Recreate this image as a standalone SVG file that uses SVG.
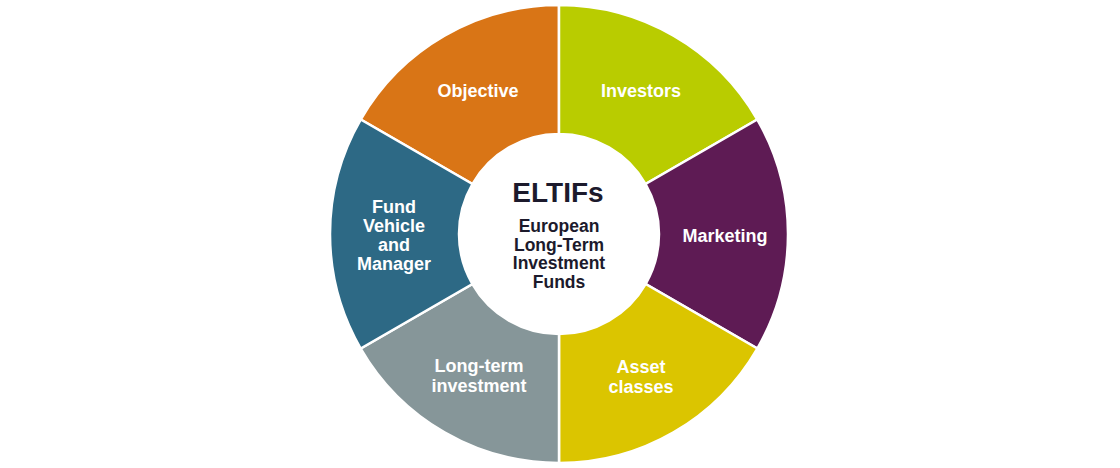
<svg xmlns="http://www.w3.org/2000/svg" width="1120" height="468" viewBox="0 0 1120 468">
<style>
.seg{stroke:#ffffff;stroke-width:2.5;stroke-linejoin:miter}
.lbl{font-family:"Liberation Sans",Arial,sans-serif;font-weight:bold;font-size:18px;fill:#ffffff;text-anchor:middle}
.title{font-family:"Liberation Sans",Arial,sans-serif;font-weight:bold;font-size:28px;fill:#1c1a2c;text-anchor:middle}
.sub{font-family:"Liberation Sans",Arial,sans-serif;font-weight:bold;font-size:17.5px;fill:#1c1a2c;text-anchor:middle}
</style>
<rect width="1120" height="468" fill="#ffffff"/>
<g id="objective">
<path class="seg" fill="#d97516" d="M360.68,119.5 A229,229 0 0 1 559,5 L559,134 A100,100 0 0 0 472.40,184 Z"/>
<text class="lbl" x="478" y="97">Objective</text>
</g>
<g id="investors">
<path class="seg" fill="#b9cc00" d="M559,5 A229,229 0 0 1 757.32,119.5 L645.60,184 A100,100 0 0 0 559,134 Z"/>
<text class="lbl" x="641" y="97">Investors</text>
</g>
<g id="marketing">
<path class="seg" fill="#5e1b54" d="M757.32,119.5 A229,229 0 0 1 757.32,348.5 L645.60,284 A100,100 0 0 0 645.60,184 Z"/>
<text class="lbl" x="725" y="242">Marketing</text>
</g>
<g id="asset-classes">
<path class="seg" fill="#dbc500" d="M757.32,348.5 A229,229 0 0 1 559,463 L559,334 A100,100 0 0 0 645.60,284 Z"/>
<text class="lbl" x="641" y="373">Asset</text>
<text class="lbl" x="641" y="393">classes</text>
</g>
<g id="long-term-investment">
<path class="seg" fill="#869699" d="M559,463 A229,229 0 0 1 360.68,348.5 L472.40,284 A100,100 0 0 0 559,334 Z"/>
<text class="lbl" x="479" y="372">Long-term</text>
<text class="lbl" x="479" y="392">investment</text>
</g>
<g id="fund-vehicle">
<path class="seg" fill="#2d6985" d="M360.68,348.5 A229,229 0 0 1 360.68,119.5 L472.40,184 A100,100 0 0 0 472.40,284 Z"/>
<text class="lbl" x="394" y="213">Fund</text>
<text class="lbl" x="394" y="232">Vehicle</text>
<text class="lbl" x="394" y="251">and</text>
<text class="lbl" x="394" y="270">Manager</text>
</g>
<g id="eltifs">
<circle cx="559" cy="234" r="99" fill="#ffffff"/>
<text class="title" x="558" y="202">ELTIFs</text>
<text class="sub" x="559" y="232">European</text>
<text class="sub" x="559" y="250.5">Long-Term</text>
<text class="sub" x="559" y="269">Investment</text>
<text class="sub" x="559" y="288">Funds</text>
</g>
</svg>
